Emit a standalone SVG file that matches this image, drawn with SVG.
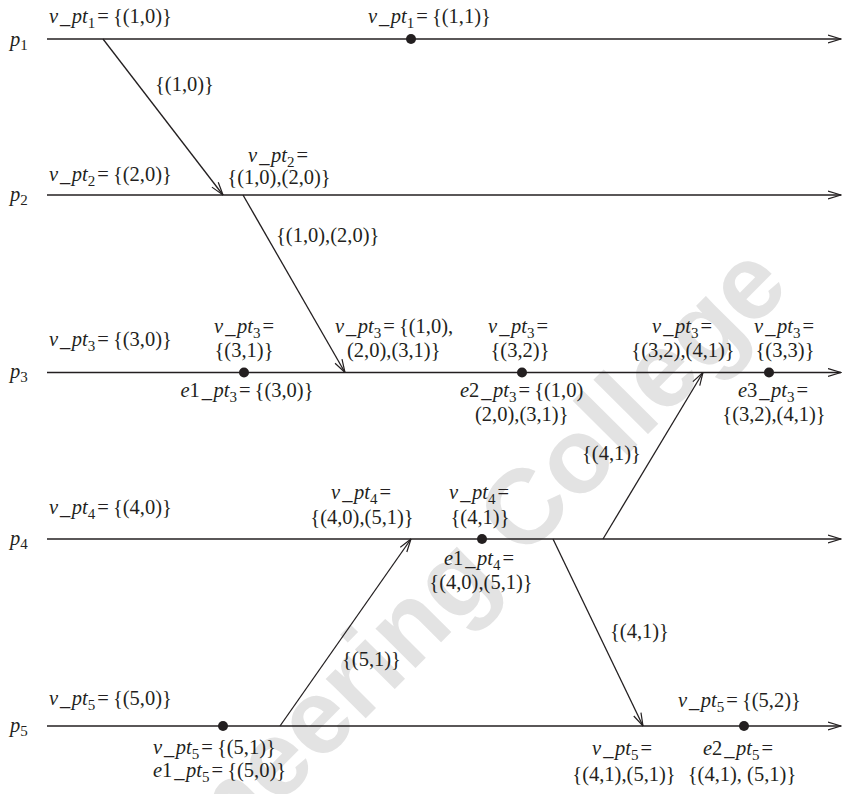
<svg xmlns="http://www.w3.org/2000/svg" width="850" height="794" viewBox="0 0 850 794">
<style>
.t{font-family:"Liberation Serif","Times New Roman",serif;font-size:20.5px;fill:#231f20}
.i{font-style:italic}
.s{font-size:15px}
.pl{stroke:#231f20;stroke-width:1.6;fill:none;marker-end:url(#ah)}
.msg{stroke:#231f20;stroke-width:1.3;fill:none;marker-end:url(#ah)}
.ev{fill:#231f20}
.wm{font-family:"Liberation Sans",Arial,sans-serif;font-weight:bold;font-size:106px;fill:#e3e3e3}
</style>
<defs>
<marker id="ah" viewBox="0 0 14 10" refX="13.5" refY="5" markerWidth="14" markerHeight="10" markerUnits="userSpaceOnUse" orient="auto">
<path d="M0.5,1 L13.5,5 L0.5,9" fill="none" stroke="#231f20" stroke-width="1.2"/>
</marker>
</defs>
<rect width="850" height="794" fill="#ffffff"/>

<!-- background watermark -->
<text class="wm" transform="translate(70,1016) rotate(-45.2)">Engineering College</text>

<!-- process p1 -->
<g id="p1">
<line class="pl" x1="47" y1="39" x2="841" y2="39"/>
<text class="t" x="10" y="46"><tspan class="i">p</tspan><tspan class="s" dy="4">1</tspan></text>
<text class="t" x="49" y="22.5"><tspan class="i">v</tspan><tspan class="i" dx="2">_</tspan><tspan class="i" dx="1.5">pt</tspan><tspan class="s" dy="5">1</tspan><tspan dx="2" dy="-5">=</tspan><tspan dx="4">{(1,0)}</tspan></text>
<circle class="ev" cx="411" cy="39" r="5"/>
<text class="t" x="368" y="22.5"><tspan class="i">v</tspan><tspan class="i" dx="2">_</tspan><tspan class="i" dx="1.5">pt</tspan><tspan class="s" dy="5">1</tspan><tspan dx="2" dy="-5">=</tspan><tspan dx="4">{(1,1)}</tspan></text>
</g>

<!-- process p2 -->
<g id="p2">
<line class="pl" x1="47" y1="195" x2="841" y2="195"/>
<text class="t" x="10" y="201"><tspan class="i">p</tspan><tspan class="s" dy="4">2</tspan></text>
<text class="t" x="49" y="181"><tspan class="i">v</tspan><tspan class="i" dx="2">_</tspan><tspan class="i" dx="1.5">pt</tspan><tspan class="s" dy="5">2</tspan><tspan dx="2" dy="-5">=</tspan><tspan dx="4">{(2,0)}</tspan></text>
<text class="t" x="278" y="162" text-anchor="middle"><tspan class="i">v</tspan><tspan class="i" dx="2">_</tspan><tspan class="i" dx="1.5">pt</tspan><tspan class="s" dy="5">2</tspan><tspan dx="2" dy="-5">=</tspan></text>
<text class="t" x="279" y="184" text-anchor="middle">{(1,0),(2,0)}</text>
</g>

<!-- process p3 -->
<g id="p3">
<line class="pl" x1="47" y1="372.5" x2="841" y2="372.5"/>
<text class="t" x="10" y="378"><tspan class="i">p</tspan><tspan class="s" dy="4">3</tspan></text>
<text class="t" x="49" y="346"><tspan class="i">v</tspan><tspan class="i" dx="2">_</tspan><tspan class="i" dx="1.5">pt</tspan><tspan class="s" dy="5">3</tspan><tspan dx="2" dy="-5">=</tspan><tspan dx="4">{(3,0)}</tspan></text>
<circle class="ev" cx="244" cy="372.5" r="5"/>
<text class="t" x="244" y="333" text-anchor="middle"><tspan class="i">v</tspan><tspan class="i" dx="2">_</tspan><tspan class="i" dx="1.5">pt</tspan><tspan class="s" dy="5">3</tspan><tspan dx="2" dy="-5">=</tspan></text>
<text class="t" x="244" y="357" text-anchor="middle">{(3,1)}</text>
<text class="t" x="247" y="397" text-anchor="middle"><tspan class="i">e</tspan><tspan>1</tspan><tspan class="i" dx="2">_</tspan><tspan class="i" dx="1.5">pt</tspan><tspan class="s" dy="5">3</tspan><tspan dx="2" dy="-5">=</tspan><tspan dx="4">{(3,0)}</tspan></text>
<text class="t" x="335" y="333"><tspan class="i">v</tspan><tspan class="i" dx="2">_</tspan><tspan class="i" dx="1.5">pt</tspan><tspan class="s" dy="5">3</tspan><tspan dx="2" dy="-5">=</tspan><tspan dx="4">{(1,0),</tspan></text>
<text class="t" x="347" y="357">(2,0),(3,1)}</text>
<circle class="ev" cx="522" cy="372.5" r="5"/>
<text class="t" x="518" y="333" text-anchor="middle"><tspan class="i">v</tspan><tspan class="i" dx="2">_</tspan><tspan class="i" dx="1.5">pt</tspan><tspan class="s" dy="5">3</tspan><tspan dx="2" dy="-5">=</tspan></text>
<text class="t" x="520" y="357" text-anchor="middle">{(3,2)}</text>
<text class="t" x="460" y="397"><tspan class="i">e</tspan><tspan>2</tspan><tspan class="i" dx="2">_</tspan><tspan class="i" dx="1.5">pt</tspan><tspan class="s" dy="5">3</tspan><tspan dx="2" dy="-5">=</tspan><tspan dx="4">{(1,0)</tspan></text>
<text class="t" x="475" y="421">(2,0),(3,1)}</text>
<text class="t" x="682" y="333" text-anchor="middle"><tspan class="i">v</tspan><tspan class="i" dx="2">_</tspan><tspan class="i" dx="1.5">pt</tspan><tspan class="s" dy="5">3</tspan><tspan dx="2" dy="-5">=</tspan></text>
<text class="t" x="683" y="357" text-anchor="middle">{(3,2),(4,1)}</text>
<circle class="ev" cx="769" cy="372.5" r="5"/>
<text class="t" x="784" y="333" text-anchor="middle"><tspan class="i">v</tspan><tspan class="i" dx="2">_</tspan><tspan class="i" dx="1.5">pt</tspan><tspan class="s" dy="5">3</tspan><tspan dx="2" dy="-5">=</tspan></text>
<text class="t" x="785" y="357" text-anchor="middle">{(3,3)}</text>
<text class="t" x="773" y="397" text-anchor="middle"><tspan class="i">e</tspan><tspan>3</tspan><tspan class="i" dx="2">_</tspan><tspan class="i" dx="1.5">pt</tspan><tspan class="s" dy="5">3</tspan><tspan dx="2" dy="-5">=</tspan></text>
<text class="t" x="774" y="421" text-anchor="middle">{(3,2),(4,1)}</text>
</g>

<!-- process p4 -->
<g id="p4">
<line class="pl" x1="47" y1="539" x2="841" y2="539"/>
<text class="t" x="10" y="545"><tspan class="i">p</tspan><tspan class="s" dy="4">4</tspan></text>
<text class="t" x="49" y="514"><tspan class="i">v</tspan><tspan class="i" dx="2">_</tspan><tspan class="i" dx="1.5">pt</tspan><tspan class="s" dy="5">4</tspan><tspan dx="2" dy="-5">=</tspan><tspan dx="4">{(4,0)}</tspan></text>
<text class="t" x="361" y="499" text-anchor="middle"><tspan class="i">v</tspan><tspan class="i" dx="2">_</tspan><tspan class="i" dx="1.5">pt</tspan><tspan class="s" dy="5">4</tspan><tspan dx="2" dy="-5">=</tspan></text>
<text class="t" x="362" y="524" text-anchor="middle">{(4,0),(5,1)}</text>
<circle class="ev" cx="482" cy="539" r="5"/>
<text class="t" x="479" y="499" text-anchor="middle"><tspan class="i">v</tspan><tspan class="i" dx="2">_</tspan><tspan class="i" dx="1.5">pt</tspan><tspan class="s" dy="5">4</tspan><tspan dx="2" dy="-5">=</tspan></text>
<text class="t" x="480" y="524" text-anchor="middle">{(4,1)}</text>
<text class="t" x="479" y="565" text-anchor="middle"><tspan class="i">e</tspan><tspan>1</tspan><tspan class="i" dx="2">_</tspan><tspan class="i" dx="1.5">pt</tspan><tspan class="s" dy="5">4</tspan><tspan dx="2" dy="-5">=</tspan></text>
<text class="t" x="481" y="589" text-anchor="middle">{(4,0),(5,1)}</text>
</g>

<!-- process p5 -->
<g id="p5">
<line class="pl" x1="47" y1="726" x2="841" y2="726"/>
<text class="t" x="10" y="732"><tspan class="i">p</tspan><tspan class="s" dy="4">5</tspan></text>
<text class="t" x="49" y="705"><tspan class="i">v</tspan><tspan class="i" dx="2">_</tspan><tspan class="i" dx="1.5">pt</tspan><tspan class="s" dy="5">5</tspan><tspan dx="2" dy="-5">=</tspan><tspan dx="4">{(5,0)}</tspan></text>
<circle class="ev" cx="223" cy="726" r="5"/>
<text class="t" x="153" y="754"><tspan class="i">v</tspan><tspan class="i" dx="2">_</tspan><tspan class="i" dx="1.5">pt</tspan><tspan class="s" dy="5">5</tspan><tspan dx="2" dy="-5">=</tspan><tspan dx="4">{(5,1)}</tspan></text>
<text class="t" x="153" y="777"><tspan class="i">e</tspan><tspan>1</tspan><tspan class="i" dx="2">_</tspan><tspan class="i" dx="1.5">pt</tspan><tspan class="s" dy="5">5</tspan><tspan dx="2" dy="-5">=</tspan><tspan dx="4">{(5,0)}</tspan></text>
<text class="t" x="678" y="707"><tspan class="i">v</tspan><tspan class="i" dx="2">_</tspan><tspan class="i" dx="1.5">pt</tspan><tspan class="s" dy="5">5</tspan><tspan dx="2" dy="-5">=</tspan><tspan dx="4">{(5,2)}</tspan></text>
<circle class="ev" cx="744" cy="726" r="5"/>
<text class="t" x="622" y="755" text-anchor="middle"><tspan class="i">v</tspan><tspan class="i" dx="2">_</tspan><tspan class="i" dx="1.5">pt</tspan><tspan class="s" dy="5">5</tspan><tspan dx="2" dy="-5">=</tspan></text>
<text class="t" x="624" y="781" text-anchor="middle">{(4,1),(5,1)}</text>
<text class="t" x="738" y="755" text-anchor="middle"><tspan class="i">e</tspan><tspan>2</tspan><tspan class="i" dx="2">_</tspan><tspan class="i" dx="1.5">pt</tspan><tspan class="s" dy="5">5</tspan><tspan dx="2" dy="-5">=</tspan></text>
<text class="t" x="742" y="781" text-anchor="middle">{(4,1), (5,1)}</text>
</g>

<!-- messages between processes -->
<g id="messages">
<line class="msg" x1="103" y1="39" x2="223" y2="195"/>
<text class="t" x="155" y="91">{(1,0)}</text>
<line class="msg" x1="243" y1="195" x2="345" y2="372.5"/>
<text class="t" x="276" y="242">{(1,0),(2,0)}</text>
<line class="msg" x1="280" y1="726" x2="411" y2="539"/>
<text class="t" x="342" y="666">{(5,1)}</text>
<line class="msg" x1="553" y1="539" x2="643" y2="726"/>
<text class="t" x="610" y="638">{(4,1)}</text>
<line class="msg" x1="603" y1="539" x2="703" y2="372.5"/>
<text class="t" x="582" y="460">{(4,1)}</text>
</g>
</svg>
